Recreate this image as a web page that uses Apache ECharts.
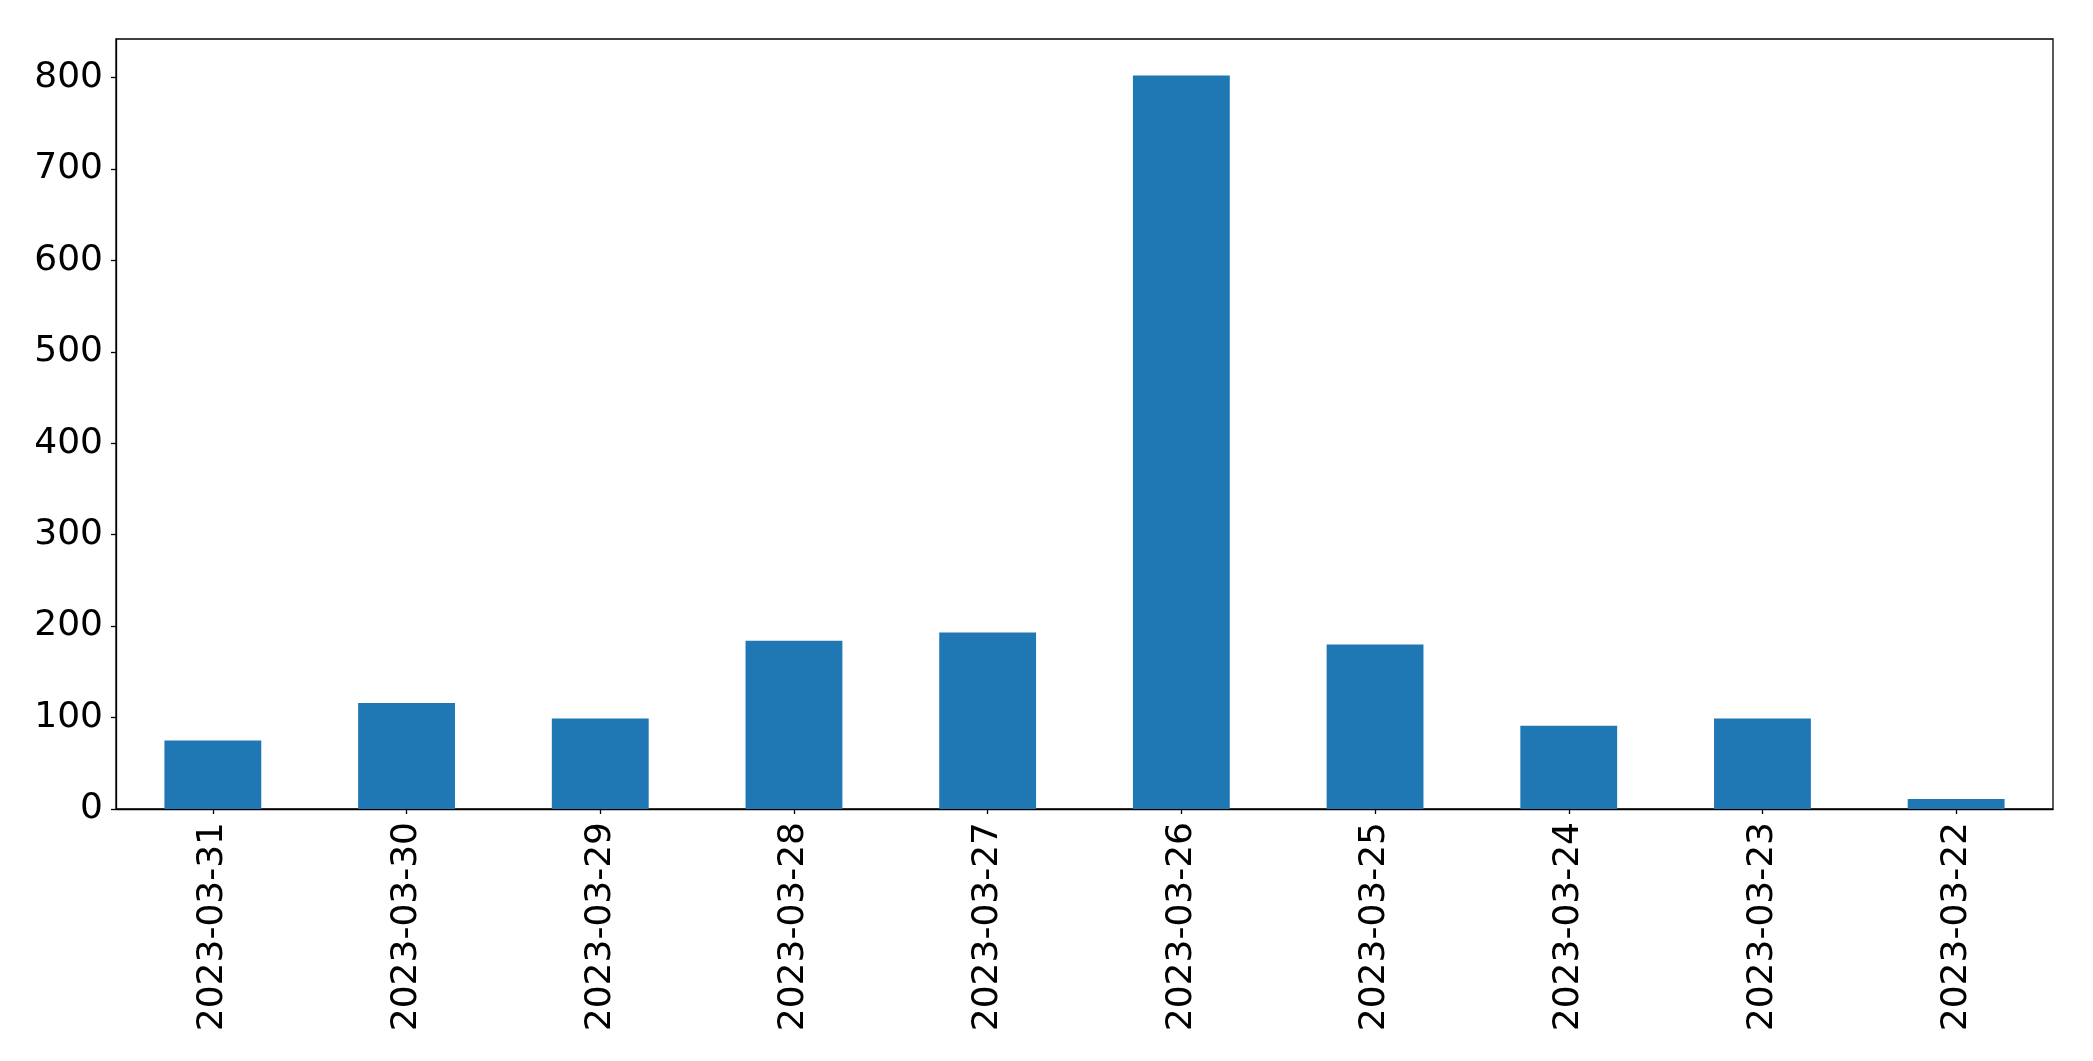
<!DOCTYPE html>
<html>
<head>
<meta charset="utf-8">
<script src="https://cdn.jsdelivr.net/npm/echarts@6/dist/echarts.min.js"></script>
<style>
html,body{margin:0;padding:0;background:#fff;}
#chart{width:2093px;height:1061px;}
</style>
</head>
<body>
<div id="chart"></div>
<script>
const categories = ['2023-03-31','2023-03-30','2023-03-29','2023-03-28','2023-03-27','2023-03-26','2023-03-25','2023-03-24','2023-03-23','2023-03-22'];
const values = [75, 116, 99, 184, 193, 802, 180, 91, 99, 11];
const yTicks = [0, 100, 200, 300, 400, 500, 600, 700, 800];
const yMax = 842;

const chart = echarts.init(document.getElementById('chart'), null, {renderer: 'canvas'});
const font = 'DejaVu Sans';
chart.setOption({
  animation: false,
  backgroundColor: '#ffffff',
  grid: {left: 116, top: 39, right: 40, bottom: 252, show: true, borderColor: '#000', borderWidth: 1.3, backgroundColor: 'transparent'},
  xAxis: {
    type: 'category',
    data: categories,
    boundaryGap: true,
    axisLine: {show: true, lineStyle: {color: '#000', width: 1.3}},
    axisTick: {show: true, alignWithLabel: true, length: 5, lineStyle: {color: '#000', width: 1.3}},
    axisLabel: {rotate: 90, fontSize: 36, fontFamily: font, color: '#000', margin: 13, interval: 0}
  },
  yAxis: {
    type: 'value',
    min: 0,
    max: yMax,
    interval: 100,
    splitLine: {show: false},
    axisLine: {show: true, lineStyle: {color: '#000', width: 1.3}},
    axisTick: {show: true, length: 5, lineStyle: {color: '#000', width: 1.3}, customValues: yTicks},
    axisLabel: {fontSize: 36, fontFamily: font, color: '#000', margin: 13, padding: [6, 0, 0, 0], customValues: yTicks}
  },
  series: [{
    type: 'bar',
    data: values,
    barWidth: '50%',
    itemStyle: {color: '#1f77b4'}
  }]
});
</script>
</body>
</html>
